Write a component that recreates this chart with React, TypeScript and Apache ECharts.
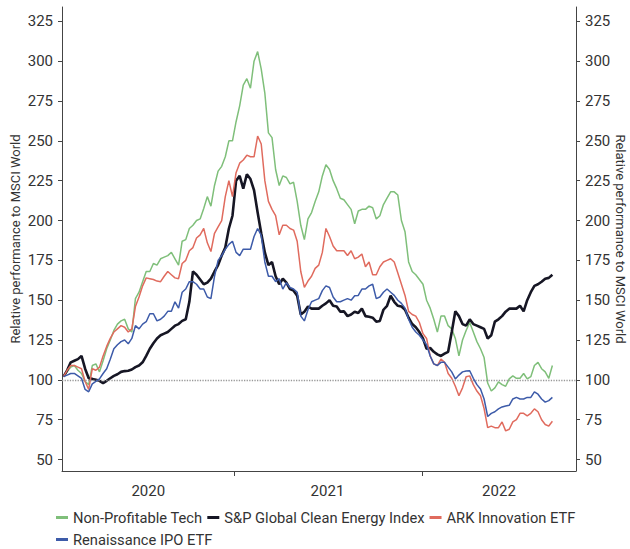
import React, { useEffect, useRef } from "react";
import * as echarts from "echarts";

const dates = [
  "2020-02-03","2020-02-10","2020-02-17","2020-02-24","2020-03-02","2020-03-09","2020-03-16","2020-03-23","2020-03-30","2020-04-06","2020-04-13","2020-04-20","2020-04-27","2020-05-04","2020-05-11","2020-05-18","2020-05-25","2020-06-01","2020-06-08","2020-06-15","2020-06-22","2020-06-29","2020-07-06","2020-07-13","2020-07-20","2020-07-27","2020-08-03","2020-08-10","2020-08-17","2020-08-24","2020-08-31","2020-09-07","2020-09-14","2020-09-21","2020-09-28","2020-10-05","2020-10-12","2020-10-19","2020-10-26","2020-11-02","2020-11-09","2020-11-16","2020-11-23","2020-11-30","2020-12-07","2020-12-14","2020-12-21","2020-12-28",
  "2021-01-04","2021-01-11","2021-01-18","2021-01-25","2021-02-01","2021-02-08","2021-02-15","2021-02-22","2021-03-01","2021-03-08","2021-03-15","2021-03-22","2021-03-29","2021-04-05","2021-04-12","2021-04-19","2021-04-26","2021-05-03","2021-05-10","2021-05-17","2021-05-24","2021-05-31","2021-06-07","2021-06-14","2021-06-21","2021-06-28","2021-07-05","2021-07-12","2021-07-19","2021-07-26","2021-08-02","2021-08-09","2021-08-16","2021-08-23","2021-08-30","2021-09-06","2021-09-13","2021-09-20","2021-09-27","2021-10-04","2021-10-11","2021-10-18","2021-10-25","2021-11-01","2021-11-08","2021-11-15","2021-11-22","2021-11-29","2021-12-06","2021-12-13","2021-12-20","2021-12-27",
  "2022-01-03","2022-01-10","2022-01-17","2022-01-24","2022-01-31","2022-02-07","2022-02-14","2022-02-21","2022-02-28","2022-03-07","2022-03-14","2022-03-21","2022-03-28","2022-04-04","2022-04-11","2022-04-18","2022-04-25","2022-05-02","2022-05-09","2022-05-16","2022-05-23","2022-05-30","2022-06-06","2022-06-13","2022-06-20","2022-06-27","2022-07-04","2022-07-11","2022-07-18","2022-07-25","2022-08-01","2022-08-08","2022-08-15","2022-08-22","2022-08-29","2022-09-05","2022-09-12",
];

const nonProfitableTech = [
  102,105,108,109,106,104,99,97,109,110,105,112,119.5,125,131,135,137,138,132,130,151,155,161.6,168,168,173,172,176,177,178,180,176,172,187,188,195,197,200,201,207.5,215,209,222,231,234,240,250,250,
  262,272,285,289,283,300,306,295,280,255,252,232,222,228,227,223,224,212,197,188,201,205,212,218,228,235,232,225,220,214,213,210,207,198,206,207,207,209,208,201,203,210,214,218,218,216,200,193,174,168,166,163,
  160,150,145,138,130,140,140,134,132,126,115,125,131,136,130,124,119.5,114,98,93,95,98.7,97,96,100.6,102.5,101,101,104,100.6,102,109,111,107,105,101,109,
];

const cleanEnergy = [
  102,106,111,112,113,115,107,101,100.6,100,99.4,98,99.4,101,102.5,103.5,105,105.5,105.7,106.5,108,109,111,115,119.5,123,126,128,129,130,132,134,135,137,138,149,168,166,163,160,161,163.5,168,172,178,183,195,203,
  225,228,220,229,226,219,205,192,180,172,174,165,160,163.5,161,157,156,152.8,141,142.8,146,144.7,144.7,144.7,146.5,148,150,146.5,146,142.8,143,140,141,142.8,142,144.7,140,139.6,139,136.5,137,144,146.5,152.8,149,146.5,146,144,139,135,133,130,
  126,119.5,120,117.6,116,115,116.4,117.6,130,143,140,135,134,138,135,134,133,132,126,128,136.5,138,140,142.8,144.7,144.7,144.7,146.5,143,150,155,159,160,161.6,163.5,164,166,
];

const arkInnovation = [
  102,106,109,109,108,107,99,94,107,106,108,115,121,126,130,132,134,133,130,132,146,152,159,164,163.5,163,162,161.6,165,168,166,164,163.5,173,175,181,183,189,191,195,186,180.5,192,196,200,215,225,215,
  230,236,238,241,240,240,253,248,225,212,207,203,191,197,197,195,194,187,168,158,162,165,170,172,180,195,190,184,181,181,181,178,181,176,177,179,171,174,166,166,171,174,175,176,174,167,160,153,143,141,140,136,
  129,126,115,110,109,113,111,104,101,96,90,95,102,102.5,97,93,90,82,70,71,70,70,73.6,68,69,73.6,75,79,79,77.4,79,81.8,80,75,72,71,74,
];

const renaissanceIpo = [
  102,103,104,104,102.5,101,94,92.5,97.5,99,100.6,104,107,113,119.5,122,124,125,122.6,126,134,132,135,136.5,141.5,141.5,137,138,140,143,143,149,145,155,157,161.6,161.6,160,157,157,152,151,165,175,178,182,185,187,
  180,178,182,182,182,190,195,190.6,174,165,165,161.6,163.5,157,161,158,157,155,140,137,144,149,150,151,156,159,158,152,149,149,150,151,150,152.8,153,157,157,159,160,151,152,155,157,155,153,150,148,145,138,133,130,128,
  125,122,115,110,109,111,111,108,105,100.6,103,105,105.5,105.7,101,97,94.3,88,77,79,80,81.8,83,83.6,84,88,89,88,88,89,89,92.5,91,88,86,87,89,
];

const yTicks = [50, 75, 100, 125, 150, 175, 200, 225, 250, 275, 300, 325];
const xRange = ["2020-01-31", "2022-10-28"];
const xTicks = ["2021-01-01", "2022-01-01"];
const xLabelPositions = ["2020-07-17", "2021-07-01", "2022-05-31"];
const seriesNames = [
  "Non-Profitable Tech",
  "S&P Global Clean Energy Index",
  "ARK Innovation ETF",
  "Renaissance IPO ETF",
];

const FONT = "Roboto";
const TEXT = "#333333";
const AXIS = "#444444";

const ts = (d: string) => Date.parse(d + "T00:00:00Z");

export default function App() {
  const ref = useRef<HTMLDivElement>(null);

  useEffect(() => {
    if (!ref.current) return;
    const chart = echarts.init(ref.current, undefined, { renderer: "svg" });
    const toPairs = (vals: number[]) => dates.map((d, i) => [ts(d), vals[i]]);

    const yAxisCommon = {
      type: "value",
      min: 42.8,
      max: 334,
      splitLine: { show: false },
      axisLine: { show: true, lineStyle: { color: AXIS, width: 1 } },
      axisTick: { show: true, length: 4, lineStyle: { color: AXIS }, customValues: yTicks },
      axisLabel: {
        customValues: yTicks,
        margin: 9,
        fontSize: 15,
        color: TEXT,
        fontFamily: FONT,
      },
      name: "Relative performance to MSCI World",
      nameLocation: "middle",
      nameMoveOverlap: false,
      nameTextStyle: { fontSize: 13, color: TEXT, fontFamily: FONT },
    };

    chart.setOption({
      animation: false,
      grid: { left: 62, right: 54, top: 7, bottom: 78, outerBoundsMode: "none" },
      xAxis: {
        type: "value",
        min: ts(xRange[0]),
        max: ts(xRange[1]),
        splitLine: { show: false },
        axisLine: { show: true, onZero: false, lineStyle: { color: AXIS, width: 1 } },
        axisTick: { show: true, length: 5, lineStyle: { color: AXIS }, customValues: xTicks.map(ts) },
        axisLabel: {
          customValues: xLabelPositions.map(ts),
          formatter: (v: number) => String(new Date(v).getUTCFullYear()),
          margin: 12,
          fontSize: 15,
          color: TEXT,
          fontFamily: FONT,
        },
      },
      yAxis: [
        { ...yAxisCommon, position: "left", nameGap: 40 },
        { ...yAxisCommon, position: "right", nameGap: 38, nameRotate: -90 },
      ],
      legend: {
        left: 56,
        top: 509,
        width: 545,
        padding: 0,
        icon: "rect",
        itemWidth: 12,
        itemHeight: 3,
        itemGap: 5,
        textStyle: { fontSize: 14.7, color: TEXT, fontFamily: FONT, lineHeight: 17 },
        data: seriesNames,
      },
      series: [
        {
          name: seriesNames[0],
          type: "line",
          data: toPairs(nonProfitableTech),
          showSymbol: false,
          symbol: "none",
          lineStyle: { width: 1.5, color: "#7fbf7a" },
          itemStyle: { color: "#7fbf7a" },
          markLine: {
            silent: true,
            symbol: "none",
            label: { show: false },
            lineStyle: { color: "#999999", type: "dotted", width: 1.3 },
            data: [{ yAxis: 100 }],
          },
          z: 2,
        },
        {
          name: seriesNames[1],
          type: "line",
          data: toPairs(cleanEnergy),
          showSymbol: false,
          symbol: "none",
          lineStyle: { width: 2.6, color: "#161624" },
          itemStyle: { color: "#161624" },
          z: 3,
        },
        {
          name: seriesNames[2],
          type: "line",
          data: toPairs(arkInnovation),
          showSymbol: false,
          symbol: "none",
          lineStyle: { width: 1.5, color: "#e06b5e" },
          itemStyle: { color: "#e06b5e" },
          z: 4,
        },
        {
          name: seriesNames[3],
          type: "line",
          data: toPairs(renaissanceIpo),
          showSymbol: false,
          symbol: "none",
          lineStyle: { width: 1.5, color: "#3d5ba9" },
          itemStyle: { color: "#3d5ba9" },
          z: 5,
        },
      ],
    });

    return () => chart.dispose();
  }, []);

  return (
    <div
      ref={ref}
      style={{ position: "fixed", left: 0, top: 0, width: 630, height: 549, background: "#ffffff" }}
    />
  );
}
